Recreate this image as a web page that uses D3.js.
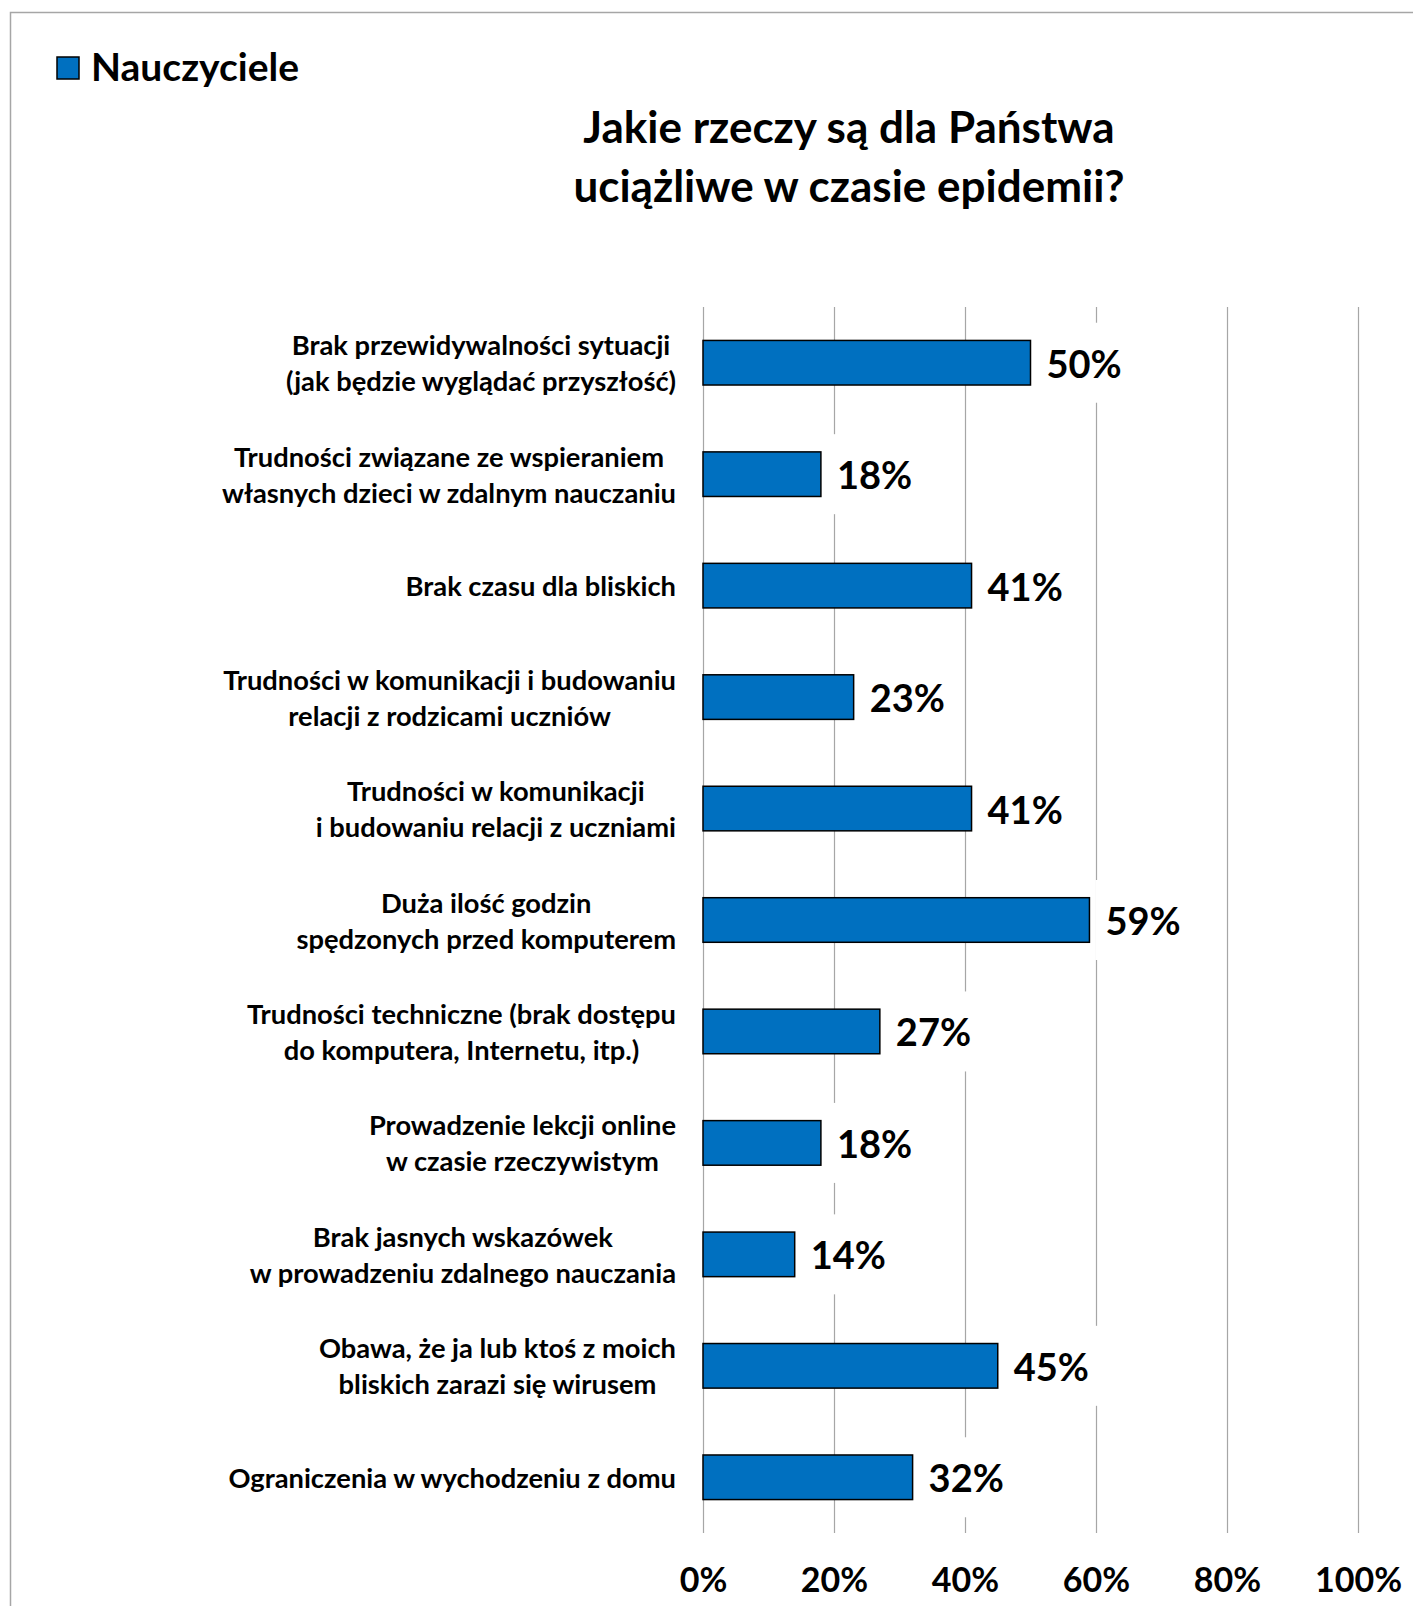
<!DOCTYPE html>
<html>
<head>
<meta charset="utf-8">
<script src="https://cdn.jsdelivr.net/npm/d3@7"></script>
<style>
  html, body { margin: 0; padding: 0; background: #fff; }
  svg { display: block; }
  text { font-family: Lato, "Open Sans", sans-serif; font-weight: 700; fill: #000; }
</style>
</head>
<body>
<svg id="chart" width="1413" height="1606"></svg>
<script>
// Categories (each entry is one label, split into its display lines)
const categories = [
  ["Brak przewidywalności sytuacji", "(jak będzie wyglądać przyszłość)"],
  ["Trudności związane ze wspieraniem", "własnych dzieci w zdalnym nauczaniu"],
  ["Brak czasu dla bliskich"],
  ["Trudności w komunikacji i budowaniu", "relacji z rodzicami uczniów"],
  ["Trudności w komunikacji", "i budowaniu relacji z uczniami"],
  ["Duża ilość godzin", "spędzonych przed komputerem"],
  ["Trudności techniczne (brak dostępu", "do komputera, Internetu, itp.)"],
  ["Prowadzenie lekcji online", "w czasie rzeczywistym"],
  ["Brak jasnych wskazówek", "w prowadzeniu zdalnego nauczania"],
  ["Obawa, że ja lub ktoś z moich", "bliskich zarazi się wirusem"],
  ["Ograniczenia w wychodzeniu z domu"]
];
// Share of teachers (%)
const values = [50, 18, 41, 23, 41, 59, 27, 18, 14, 45, 32];
// Axis ticks (%)
const tickValues = [0, 20, 40, 60, 80, 100];
const seriesName = "Nauczyciele";
const titleLines = ["Jakie rzeczy są dla Państwa", "uciążliwe w czasie epidemii?"];

const W = 1413, H = 1606;
const barColor = "#0070C0";
const gridColor = "#A6A6A6";

const svg = d3.select("#chart");

// outer frame (top and left edges)
svg.append("path")
  .attr("d", `M10.5,${H} V12.5 H${W}`)
  .attr("fill", "none")
  .attr("stroke", "#A6A6A6")
  .attr("stroke-width", 1.5);

const ids = categories.map((_, i) => i);
const x = d3.scaleLinear().domain([0, 100]).range([703, 1358]);
const y = d3.scaleBand().domain(ids).range([307, 1533]).paddingInner(0.6).paddingOuter(0.3);

// vertical gridlines
svg.append("g").selectAll("line")
  .data(tickValues)
  .join("line")
  .attr("x1", d => x(d) + 0.5).attr("x2", d => x(d) + 0.5)
  .attr("y1", 307).attr("y2", 1533)
  .attr("stroke", gridColor)
  .attr("stroke-width", 1.2);

// x axis tick labels
const xAxis = d3.axisBottom(x).tickValues(tickValues).tickSize(0).tickPadding(0)
  .tickFormat(d => d + "%");
const gx = svg.append("g").attr("transform", "translate(0,1592)").call(xAxis);
gx.select(".domain").remove();
gx.selectAll("text")
  .attr("dy", null).attr("y", 0)
  .attr("font-family", "Lato, sans-serif")
  .attr("font-weight", 700)
  .attr("font-size", 34)
  .attr("fill", "#000");

// bars
svg.append("g").selectAll("rect")
  .data(values)
  .join("rect")
  .attr("x", x(0))
  .attr("y", (d, i) => y(i))
  .attr("width", d => x(d) - x(0))
  .attr("height", y.bandwidth())
  .attr("fill", barColor)
  .attr("stroke", "#000")
  .attr("stroke-width", 1.5);

// value labels on a white box
const vg = svg.append("g").selectAll("g")
  .data(values)
  .join("g")
  .attr("transform", (d, i) => `translate(${x(d) + 16},${y(i) + y.bandwidth() / 2})`);
const vbg = vg.append("rect").attr("fill", "#fff");
const vt = vg.append("text")
  .attr("font-size", 38)
  .attr("dominant-baseline", "central")
  .text(d => d + "%");
vt.each(function () {
  const w = this.getComputedTextLength();
  d3.select(this.parentNode).select("rect")
    .attr("x", -10).attr("y", -40).attr("width", w + 20).attr("height", 80);
});

// category labels: lines centred on each other, block right-aligned to the axis
const lineH = 36;
const lg = svg.append("g").selectAll("g")
  .data(categories)
  .join("g");
lg.each(function (lines, i) {
  const g = d3.select(this);
  const cy = y(i) + y.bandwidth() / 2;
  const texts = g.selectAll("text")
    .data(lines)
    .join("text")
    .attr("font-size", 27.3)
    .attr("text-anchor", "middle")
    .attr("dominant-baseline", "central")
    .attr("y", (d, j) => cy + (j - (lines.length - 1) / 2) * lineH)
    .text(d => d);
  let maxW = 0;
  texts.each(function () { maxW = Math.max(maxW, this.getComputedTextLength()); });
  texts.attr("x", 676 - maxW / 2);
});

// legend
svg.append("rect")
  .attr("x", 57).attr("y", 57).attr("width", 22).attr("height", 22)
  .attr("fill", barColor).attr("stroke", "#000").attr("stroke-width", 1.5);
svg.append("text")
  .attr("x", 91).attr("y", 81)
  .attr("font-size", 39)
  .text(seriesName);

// title
svg.append("g").selectAll("text")
  .data(titleLines)
  .join("text")
  .attr("x", 849)
  .attr("y", (d, i) => 143 + i * 59)
  .attr("text-anchor", "middle")
  .attr("font-size", 44)
  .text(d => d);
</script>
</body>
</html>
